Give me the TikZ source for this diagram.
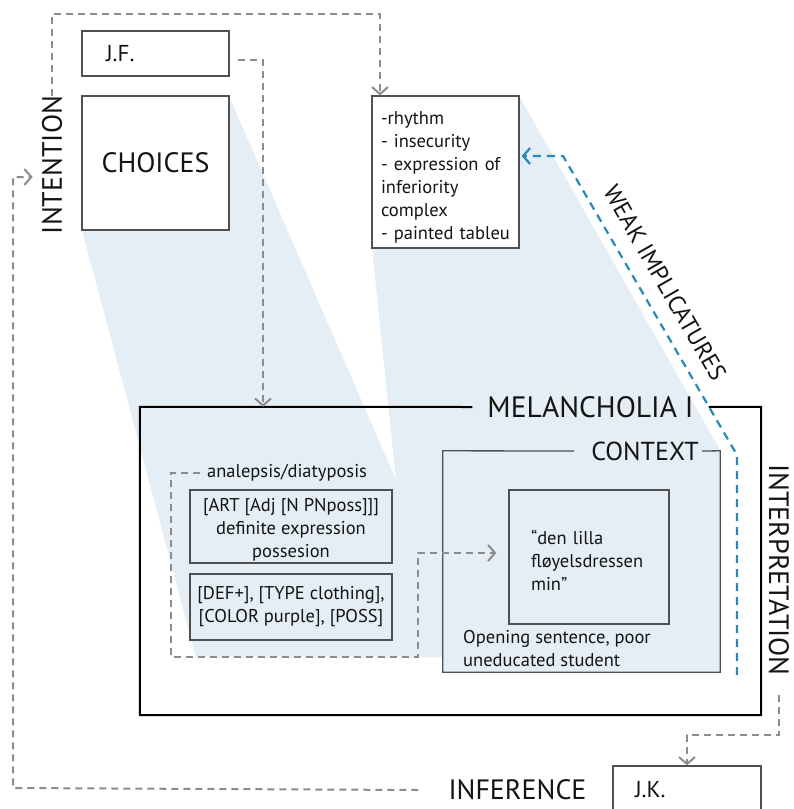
\documentclass[tikz,border=0pt]{standalone}
\usepackage{fontspec}
\setmainfont{PT Sans}
\usetikzlibrary{arrows.meta,calc}
\definecolor{coneblue}{RGB}{228,238,244}
\definecolor{dashgray}{RGB}{140,140,140}
\definecolor{implblue}{RGB}{40,138,180}
\definecolor{boxline}{RGB}{80,80,80}
\definecolor{ink}{RGB}{20,20,20}
\begin{document}
\begin{tikzpicture}[x=1pt,y=-1pt,
  every node/.style={text=ink},
  bigtext/.style={font=\fontsize{28}{32}\selectfont},
  midtext/.style={font=\fontsize{26}{30}\selectfont},
  nametext/.style={font=\fontsize{23}{27}\selectfont},
  smalltext/.style={font=\fontsize{18.5}{23}\selectfont},
  plainbox/.style={draw=boxline, line width=1.3pt, fill=white, inner sep=0pt},
  featbox/.style={draw=boxline, line width=1.3pt, fill=coneblue, inner sep=0pt, align=center, smalltext},
  frame/.style={draw=black, line width=2pt},
  thinframe/.style={draw=boxline, line width=1.3pt},
  gdash/.style={draw=dashgray, line width=2pt, dash pattern=on 7pt off 5pt},
  bdash/.style={draw=implblue, line width=2.2pt, dash pattern=on 8pt off 6pt},
  vtip/.style={-{Straight Barb[length=7pt,width=16pt]}}
]
\clip (0,0) rectangle (793,809);
\fill[white] (0,0) rectangle (793,809);

% projection cones from the author's choices and the implicatures
\fill[coneblue] (82,230) -- (229,96) -- (396,480) -- (372,248) -- (519,96)
  -- (720,450) -- (720,672) -- (443,672) -- (443,657) -- (196,657) -- cycle;

% author side
\node[plainbox, nametext, minimum width=147, minimum height=45, text width=99, align=left] (jf) at (155.5,53.5) {J.F.};
\node[plainbox, bigtext, minimum width=147, minimum height=134] (choices) at (155.5,163) {CHOICES};
\node[bigtext, rotate=90, inner sep=0pt] (intention) at (52,165) {INTENTION};

% implicatures
\node[plainbox, smalltext, minimum width=147, minimum height=152, text width=129, align=left] (impl) at (445.5,172)
  {\rule{0pt}{24pt}-rhythm\\- insecurity\\- expression of\\inferiority\\complex\\- painted tableu};
\node[font=\fontsize{24}{28}\selectfont, rotate=-60, inner sep=0pt] (weak) at (665,283) {WEAK IMPLICATURES};

% the text
\node[minimum width=621, minimum height=308, inner sep=0pt] (mel) at (450.5,561) {};
\node[font=\fontsize{29.5}{33}\selectfont, inner xsep=15pt, inner ysep=0pt] (meltitle) at (590.5,407) {MELANCHOLIA I};
\draw[frame] (meltitle.west) -- (mel.north west) -- (mel.south west) -- (mel.south east) -- (mel.north east) -- (meltitle.east);

% context
\node[minimum width=277, minimum height=221, inner sep=0pt] (ctx) at (581.5,561.5) {};
\node[midtext, inner sep=0pt] (ctxtitle) at (645,451) {CONTEXT};
\draw[thinframe] ([xshift=-17pt]ctxtitle.west) -- (ctx.north west) -- (ctx.south west) -- (ctx.south east) -- (ctx.north east) -- ([xshift=3pt]ctxtitle.east);
\node[thinframe, smalltext, minimum width=160, minimum height=134, text width=116, align=left, inner sep=0pt] (quote) at (589,557)
  {\rule{0pt}{21pt}“den lilla\\fløyelsdressen\\min”};
\node[smalltext, anchor=west, align=left, inner sep=0pt] (opening) at (463,649) {Opening sentence, poor\\uneducated student};

% linguistic analysis
\node[smalltext, anchor=west, inner sep=0pt] (analab) at (207,473) {analepsis/diatyposis};
\node[featbox, minimum width=202, minimum height=73] (art) at (291,526.5) {\rule{0pt}{19pt}[ART [Adj [N PNposs]]]\\{}definite expression\\{}possesion};
\node[featbox, minimum width=202, minimum height=66] (def) at (291,607) {[DEF+], [TYPE clothing],\\{}[COLOR purple], [POSS]};

% reader side
\node[bigtext, rotate=-90, inner sep=0pt] (interp) at (779,570) {INTERPRETATION};
\node[plainbox, nametext, minimum width=148, minimum height=48, text width=104, align=left] (jk) at (687,790) {J.K.};
\node[bigtext, inner sep=0pt] (inference) at (517.5,790) {INFERENCE};

% connectors
\coordinate (t1) at (49,14);
\coordinate (t2) at (380,14);
\draw[gdash, vtip] (intention.east) -- (intention.east |- t1) -- (t2) -- (t2 |- impl.north);

\coordinate (jf1) at (263,60);
\draw[gdash, vtip] ($(jf.east |- jf1)+(8,0)$) -- (jf1) -- (jf1 |- mel.north);

\coordinate (b1) at (13,788);
\coordinate (b2) at (13,177);
\draw[gdash, vtip, shorten >=9pt] ($(inference.west)+(-30,0)$) -- (b1) -- (b2) -- (b2 -| intention.north);

\coordinate (ar) at (418,553);
\draw[gdash, vtip, shorten >=12pt] ($(analab.west)+(-7,0)$) -- (171,473) -- (171,657) -- (418,657) -- (ar) -- (ar -| quote.west);

\draw[gdash, vtip] ($(interp.east)+(0,19)$) -- ++(0,40) -| (jk.north);

\coordinate (w1) at (737,675);
\coordinate (w2) at (737,455);
\coordinate (w3) at (563,156);
\draw[bdash, vtip, shorten >=2pt] (w1) -- (w2) -- (w3) -- (w3 -| impl.east);
\end{tikzpicture}
\end{document}
